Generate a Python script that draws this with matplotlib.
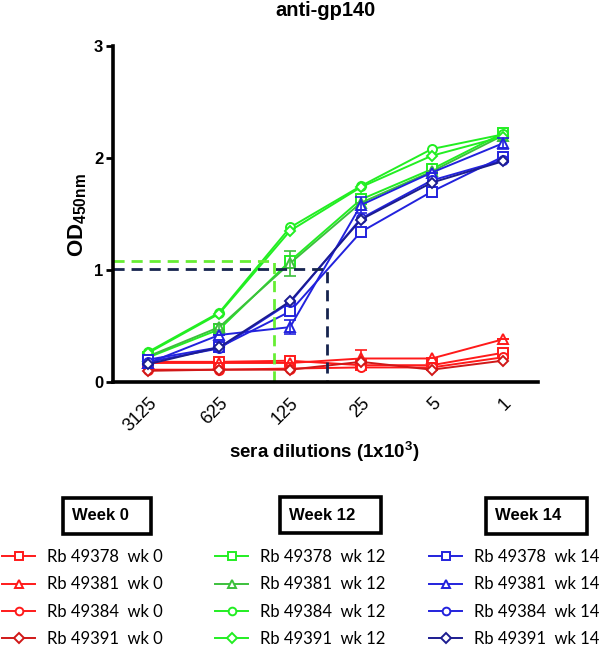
import numpy as np
import matplotlib
matplotlib.use("Agg")
import matplotlib.pyplot as plt
from matplotlib.patches import Rectangle

plt.rcParams['font.family'] = ['Liberation Sans', 'DejaVu Sans']
plt.rcParams['mathtext.fontset'] = 'custom'
plt.rcParams['mathtext.rm'] = 'Liberation Sans'
plt.rcParams['mathtext.bf'] = 'Liberation Sans:bold'

dilutions = ['3125', '625', '125', '25', '5', '1']
animals = ['Rb 49378', 'Rb 49381', 'Rb 49384', 'Rb 49391']

# Week 0
wk0_49378 = [0.18, 0.18, 0.19, 0.15, 0.15, 0.26]
wk0_49381 = [0.17, 0.17, 0.17, 0.21, 0.21, 0.38]
wk0_49384 = [0.11, 0.11, 0.12, 0.13, 0.13, 0.22]
wk0_49391 = [0.10, 0.11, 0.11, 0.18, 0.11, 0.19]
# Week 12
wk12_49378 = [0.22, 0.47, 1.08, 1.63, 1.90, 2.22]
wk12_49381 = [0.23, 0.49, 1.06, 1.60, 1.88, 2.20]
wk12_49384 = [0.27, 0.62, 1.38, 1.75, 2.08, 2.21]
wk12_49391 = [0.26, 0.61, 1.35, 1.74, 2.02, 2.19]
# Week 14
wk14_49378 = [0.20, 0.31, 0.63, 1.34, 1.70, 2.01]
wk14_49381 = [0.17, 0.42, 0.49, 1.58, 1.87, 2.13]
wk14_49384 = [0.18, 0.30, 0.71, 1.46, 1.80, 1.98]
wk14_49391 = [0.16, 0.31, 0.72, 1.45, 1.78, 1.97]

# error bars (SD) where visible
err_wk0_49381 = [0.0, 0.0, 0.0, 0.08, 0.0, 0.0]
err_wk12_49381 = [0.0, 0.03, 0.11, 0.0, 0.0, 0.0]
err_wk14_49381 = [0.0, 0.0, 0.06, 0.07, 0.0, 0.05]

# endpoint titre guide lines (x in dilution-index units, y in OD)
endpoint_wk12 = (1.77, 1.08)
endpoint_wk14 = (2.52, 1.01)

red = '#ff1a1a'
red_d = '#d01818'
green = '#22ee22'
green_d = '#3cc03c'
blue = '#2222dd'
navy = '#1c1c90'

markers = ['s', '^', 'o', 'D']
groups = [
    ('Week 0', 'wk 0', [wk0_49378, wk0_49381, wk0_49384, wk0_49391],
     [None, err_wk0_49381, None, None], [red, red, red, red_d]),
    ('Week 12', 'wk 12', [wk12_49378, wk12_49381, wk12_49384, wk12_49391],
     [None, err_wk12_49381, None, None], [green, green_d, green, green]),
    ('Week 14', 'wk 14', [wk14_49378, wk14_49381, wk14_49384, wk14_49391],
     [None, err_wk14_49381, None, None], [blue, blue, blue, navy]),
]

fig = plt.figure(figsize=(6.0, 6.49), dpi=100)
ax = fig.add_axes([113/600, 1-382/649, (538-113)/600, (382-46)/649])

x = np.arange(len(dilutions))
handles = []
for gname, wk, series, errs, cols in groups:
    hs = []
    for vals, err, m, c in zip(series, errs, markers, cols):
        ms = 5.5 if m == 'D' else 6.5
        line, = ax.plot(x, vals, color=c, lw=1.4, marker=m, ms=ms,
                        mfc='white', mec=c, mew=1.4)
        if err is not None:
            ax.errorbar(x, vals, yerr=err, fmt='none', ecolor=c,
                        elinewidth=1.2, capsize=4, capthick=1.2)
        hs.append(line)
    handles.append(hs)

# endpoint guide lines
ex, ey = endpoint_wk12
ax.plot([-0.5, ex, ex], [ey, ey, 0], color='#66ee33', lw=2, ls=(0, (4, 2.5)))
ex, ey = endpoint_wk14
ax.plot([-0.5, ex, ex], [ey, ey, 0], color='#16244e', lw=2, ls=(0, (4, 2.5)))

ax.set_xlim(-0.5, 5.5)
ax.set_ylim(0, 3)
ax.set_xticks(x)
ax.set_xticklabels(dilutions, rotation=45, ha='right', va='top',
                   rotation_mode='anchor', fontsize=13)
ax.tick_params(axis='x', length=0, pad=9)
ax.set_yticks([0, 1, 2, 3])
ax.set_yticklabels(['0', '1', '2', '3'], fontsize=12, fontweight='bold')
ax.tick_params(axis='y', length=5, width=2, pad=2)
for s in ['top', 'right']:
    ax.spines[s].set_visible(False)
for s in ['left', 'bottom']:
    ax.spines[s].set_linewidth(2.6)

fig.text(325/600, 1-11/649, 'anti-gp140', ha='center', va='center',
         fontsize=14.5, fontweight='bold')
fig.text(78/600, 1-215/649, r'$\mathbf{OD}_{\mathbf{450nm}}$', rotation=90,
         ha='center', va='center', fontsize=16)
fig.text(324/600, 1-452/649, r'sera dilutions (1x10$^{\mathbf{3}}$)',
         ha='center', va='center', fontsize=13.5, fontweight='bold')

# legend titles (boxed)
boxes = [(63, 498, 88, 36, 72), (280, 497, 101, 36, 289), (486, 498, 101, 36, 495)]
for (gname, wk, series, errs, cols), (bx, by, bw, bh, tx) in zip(groups, boxes):
    fig.patches.append(Rectangle((bx/600, 1-(by+bh)/649), bw/600, bh/649,
                                 transform=fig.transFigure, fill=False,
                                 edgecolor='black', lw=2.6))
    fig.text(tx/600, 1-(by+bh/2)/649, gname, ha='left', va='center',
             fontsize=12, fontweight='bold')

leg_x = [2/600, 215/600, 429/600]
for (gname, wk, series, errs, cols), hs, lx in zip(groups, handles, leg_x):
    labels = [f'{a}  {wk}' for a in animals]
    fig.legend(hs, labels, loc='upper left', bbox_to_anchor=(lx, 1-549/649),
               frameon=False, handlelength=2.0, handletextpad=0.7,
               labelspacing=0.68, borderpad=0, borderaxespad=0,
               markerscale=0.85, prop={'family': 'Lato', 'size': 12})

fig.savefig('out.png', dpi=100)
